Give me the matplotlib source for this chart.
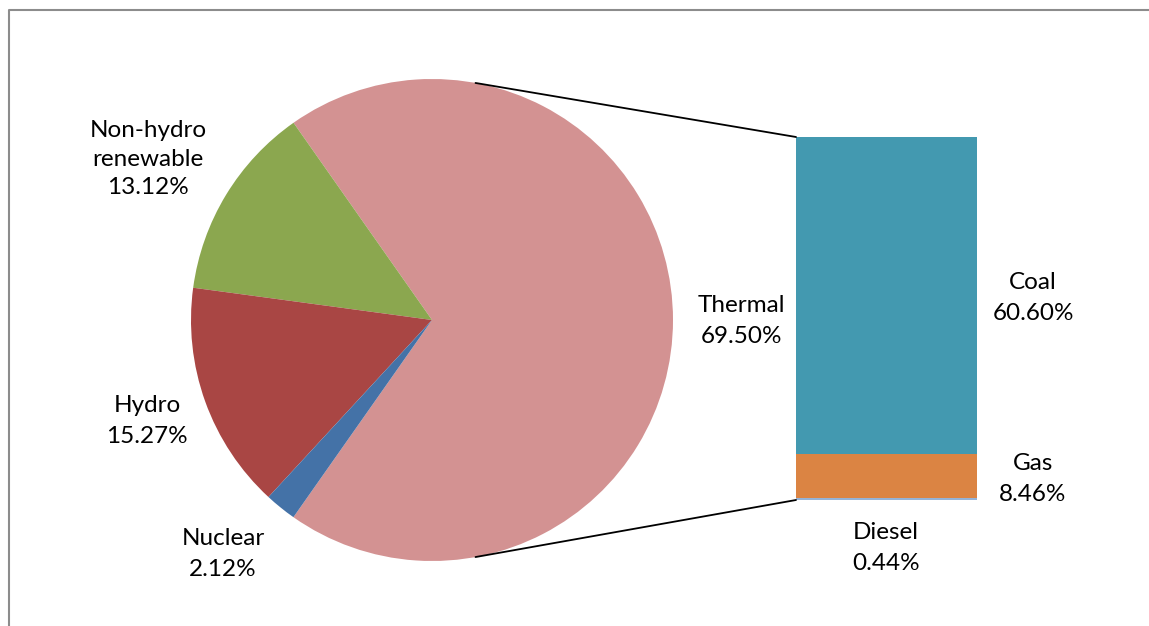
import matplotlib
matplotlib.use("Agg")
import matplotlib.pyplot as plt
from matplotlib.patches import ConnectionPatch
from matplotlib.lines import Line2D
import numpy as np

# electricity generation share (%)
pie_labels = ["Thermal", "Non-hydro\nrenewable", "Hydro", "Nuclear"]
pie_values = [69.50, 13.12, 15.27, 2.12]
pie_colors = ["#D39292", "#8BA74F", "#A94644", "#4472A7"]

# breakdown of thermal
bar_labels = ["Coal", "Gas", "Diesel"]
bar_values = [60.60, 8.46, 0.44]
bar_colors = ["#4399B0", "#DB8443", "#95B3D7"]

plt.rcParams["font.family"] = ["Lato", "DejaVu Sans"]
FS = 17.5

W, H = 1149, 626
fig = plt.figure(figsize=(W / 100, H / 100), dpi=100)


def box(l, t, r, b):
    return [l / W, 1 - b / H, (r - l) / W, (b - t) / H]


# pie
ax_pie = fig.add_axes(box(191, 79, 673, 561))
start = -pie_values[0] / 100 * 360 / 2
ax_pie.pie(pie_values, colors=pie_colors, startangle=start, counterclock=True,
           radius=1, wedgeprops=dict(linewidth=0))
ax_pie.set_xlim(-1, 1)
ax_pie.set_ylim(-1, 1)
ax_pie.set_aspect("equal")
ax_pie.axis("off")

# stacked bar of the thermal part
ax_bar = fig.add_axes(box(796, 137, 977, 500))
bottom = 0
for v, c in zip(bar_values[::-1], bar_colors[::-1]):
    ax_bar.bar(0, v, width=1, bottom=bottom, color=c, linewidth=0)
    bottom += v
ax_bar.set_xlim(-0.5, 0.5)
ax_bar.set_ylim(0, sum(bar_values))
ax_bar.axis("off")

# connector lines
ang = np.deg2rad(79.6)
for sgn, ytop in ((1, sum(bar_values)), (-1, 0)):
    con = ConnectionPatch(xyA=(np.cos(ang), sgn * np.sin(ang)), coordsA=ax_pie.transData,
                          xyB=(-0.5, ytop), coordsB=ax_bar.transData,
                          color="black", linewidth=1.3)
    fig.add_artist(con)

# labels
def label(x, y, s, ls=1.55):
    fig.text(x / W, 1 - y / H, s, ha="center", va="center", fontsize=FS,
             color="black", linespacing=ls)

label(148, 159, "Non-hydro\nrenewable\n%.2f%%" % pie_values[1], ls=1.45)
label(147, 421, "Hydro\n%.2f%%" % pie_values[2])
label(223, 554, "Nuclear\n%.2f%%" % pie_values[3])
label(741, 321, "Thermal\n%.2f%%" % pie_values[0])
label(1033, 298, "Coal\n%.2f%%" % bar_values[0])
label(1033, 479, "Gas\n%.2f%%" % bar_values[1])
label(886, 548, "Diesel\n%.2f%%" % bar_values[2])

# chart frame (top and left edges)
fig.add_artist(Line2D([8.5 / W, 8.5 / W, 1], [0, 1 - 9.5 / H, 1 - 9.5 / H],
                      transform=fig.transFigure, color="#8C8C8C", linewidth=1.5))

fig.savefig("out.png", dpi=100)
